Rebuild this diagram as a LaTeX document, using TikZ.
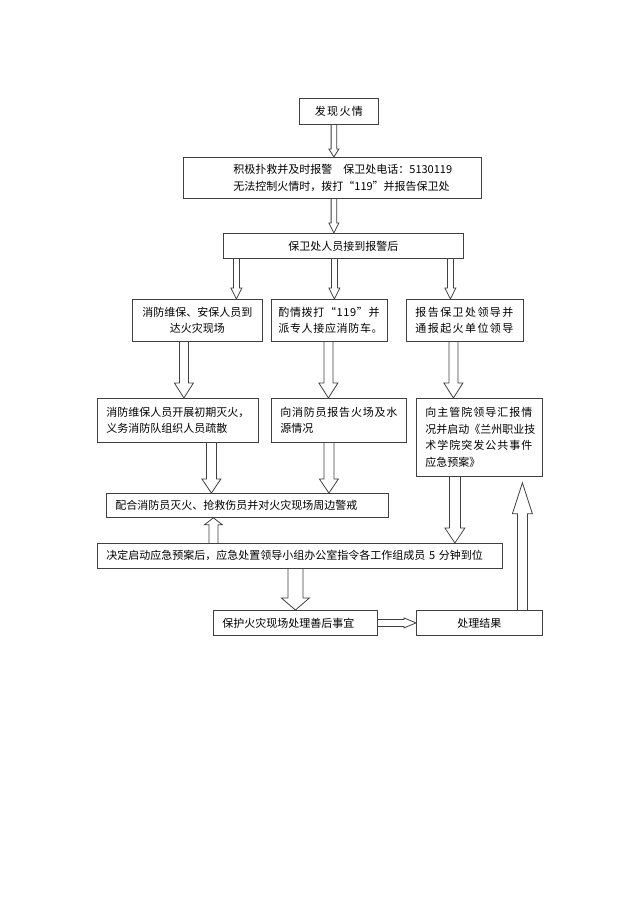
\documentclass[tikz,border=0pt]{standalone}
\usepackage{fontspec}
\setmainfont{Noto Sans CJK SC}
\usetikzlibrary{calc}
\newcommand\spaced[1]{\addfontfeature{LetterSpace=#1}}
\tikzset{
  box/.style={draw=black!75, line width=0.8pt, inner ysep=0pt, anchor=north west,
    font=\fontsize{11}{16.5}\selectfont, text=black},
  arr/.style={draw=black!75, line width=0.8pt, line join=miter},
}
% #1 start, #2 end, #3 half shaft, #4 half head, #5 head length
\newcommand\blockarr[5]{%
  \coordinate (hb) at ($(#2)!#5!(#1)$);
  \draw[arr] ($(#1)!#3!90:(#2)$) -- ($(hb)!#3!90:(#2)$) -- ($(hb)!#4!90:(#2)$) -- (#2)
    -- ($(hb)!#4!-90:(#2)$) -- ($(hb)!#3!-90:(#2)$) -- ($(#1)!#3!-90:(#2)$);
}
% #1 start anchor, #2 dx, #3 end anchor, #4 s, #5 h, #6 L, #7 name
\newcommand\varr[7]{%
  \coordinate (#7s) at ($(#1)+(#2,0)$);
  \coordinate (#7e) at (#7s |- #3);
  \blockarr{#7s}{#7e}{#4}{#5}{#6}
}
\begin{document}
\begin{tikzpicture}[x=1pt,y=1pt]
\useasboundingbox[fill=white] (0,0) rectangle (639,-905);

\node[box, minimum width=79pt, minimum height=26pt, inner xsep=0pt] (n1) at (299,-98) {{\spaced{12}发现火情}};
\node[box, text width=198pt, inner xsep=50pt, minimum height=41pt, align=left] (n2) at (183,-157)
  {积极扑救并及时报警\kern11pt 保卫处电话：5130119\\无法控制火情时，拨打“119”并报告保卫处};
\node[box, minimum width=240pt, minimum height=25pt, inner xsep=0pt] (n3) at (223,-233) {保卫处人员接到报警后};

\node[box, text width=120pt, inner xsep=5pt, minimum height=42pt, align=center] (A) at (132,-299)
  {消防维保、安保人员到\\达火灾现场};
\node[box, text width=102pt, inner xsep=7pt, minimum height=42pt, align=left] (B) at (271,-299)
  {{\spaced{6}酌情拨打“119”并}\\{\spaced{6}派专人接应消防车。}};
\node[box, text width=99pt, inner xsep=9pt, minimum height=42pt, align=left] (C) at (406,-299)
  {{\spaced{13}报告保卫处领导并}\\{\spaced{13}通报起火单位领导}};

\node[box, text width=143pt, inner xsep=9pt, minimum height=44pt, align=left] (D) at (97,-398)
  {消防维保人员开展初期灭火，\\义务消防队组织人员疏散};
\node[box, text width=117pt, inner xsep=9pt, minimum height=44pt, align=left] (E) at (271,-398)
  {{\spaced{7}向消防员报告火场及水}\\源情况};
\node[box, text width=108pt, inner xsep=9pt, minimum height=78pt, align=left] (F) at (416,-398)
  {{\spaced{9}向主管院领导汇报情}\\况并启动《兰州职业技\\{\spaced{9}术学院突发公共事件}\\应急预案》};

\node[box, text width=264pt, inner xsep=9pt, minimum height=24pt, align=left] (G) at (106,-493)
  {配合消防员灭火、抢救伤员并对火灾现场周边警戒};
\node[box, text width=387pt, inner xsep=9pt, minimum height=25pt, align=left] (H) at (97,-543)
  {决定启动应急预案后，应急处置领导小组办公室指令各工作组成员~5~分钟到位};
\node[box, text width=146pt, inner xsep=9pt, minimum height=25pt, align=left] (I) at (213,-610)
  {保护火灾现场处理善后事宜};
\node[box, minimum width=126pt, minimum height=25pt, inner xsep=0pt] (J) at (416,-610) {处理结果};

\varr{n1.south}{-5}{n2.north}{2.8pt}{5pt}{8pt}{a1}
\varr{n2.south}{1.5}{n3.north}{2.8pt}{5pt}{10pt}{a2}
\varr{n3.south}{-107}{A.north}{3pt}{5.5pt}{11pt}{a3}
\varr{n3.south}{-9}{B.north}{3pt}{5.5pt}{11pt}{a4}
\varr{n3.south}{107}{C.north}{3pt}{5.5pt}{11pt}{a5}
\varr{A.south}{-13.5}{D.north}{4.5pt}{9.5pt}{15pt}{a6}
\varr{B.south}{-1}{E.north}{4.5pt}{9.5pt}{15pt}{a7}
\varr{C.south}{-11.5}{F.north}{4.5pt}{9.5pt}{15pt}{a8}
\varr{D.south}{33.5}{G.north}{5pt}{9.5pt}{14pt}{a9}
\varr{E.south}{-10}{G.north}{5pt}{9.5pt}{14pt}{a10}
\varr{H.north}{-86.5}{G.south}{4.5pt}{9pt}{7pt}{a11}
\varr{F.south}{-24.5}{H.north}{5.5pt}{10pt}{15pt}{a12}
\varr{H.south}{-4.5}{I.north}{7.5pt}{14pt}{12pt}{a13}
\coordinate (a14s) at (I.east);
\coordinate (a14e) at (a14s -| J.west);
\blockarr{a14s}{a14e}{3.5pt}{5pt}{12pt}
\coordinate (Fgap) at ($(F.south)+(0,-6)$);
\coordinate (a15s) at ($(J.north)+(43,0)$);
\coordinate (a15e) at (a15s |- Fgap);
\blockarr{a15s}{a15e}{5pt}{10pt}{31pt}
\end{tikzpicture}
\end{document}
